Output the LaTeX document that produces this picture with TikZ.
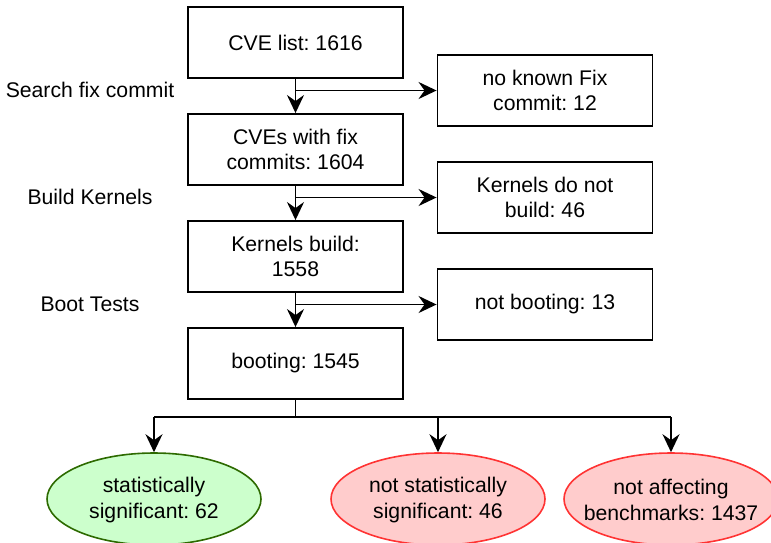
\documentclass[tikz,border=0pt]{standalone}
\usepackage{fontspec}
\setmainfont{Liberation Sans}
\frenchspacing
\usetikzlibrary{arrows.meta,shapes.geometric}
\definecolor{gfill}{HTML}{CCFFCC}
\definecolor{gline}{HTML}{2D6A00}
\definecolor{rfill}{HTML}{FFCCCC}
\definecolor{rline}{HTML}{FF3333}
\tikzset{
  txt/.style={font=\fontsize{21.2}{25.5}\selectfont},
  box/.style={draw=black, line width=1.9pt, minimum width=215pt, minimum height=71pt, inner sep=0pt, align=center, txt},
  lab/.style={inner sep=0pt, txt},
  oval/.style={ellipse, line width=1.6pt, minimum width=214pt, minimum height=92pt, inner sep=0pt},
  good/.style={oval, draw=gline, fill=gfill},
  bad/.style={oval, draw=rline, fill=rfill},
  otext/.style={inner sep=0pt, align=center, txt},
  conn/.style={line width=1.9pt, -{Stealth[length=18pt,width=17pt,inset=6pt]}},
  plain/.style={line width=1.9pt}
}
\begin{document}
\begin{tikzpicture}[x=1pt,y=-1pt]
\useasboundingbox (0,0) rectangle (771,542);
\clip (0,0) rectangle (771,542);
\node[box] (a) at (295.5,42.5) {CVE list: 1616};
\node[box] (b) at (295.5,149.5) {CVEs with fix\\commits: 1604};
\node[box] (c) at (295.5,256.5) {Kernels build:\\1558};
\node[box] (d) at (295.5,363.5) {booting: 1545};
\node[box] (e) at (545,90.5) {no known Fix\\commit: 12};
\node[box] (f) at (545,197.5) {Kernels do not\\build: 46};
\node[box] (g) at (545,304.5) {not booting: 13};
\node[lab] (l1) at (90,90) {Search fix commit};
\node[lab] (l2) at (90,197) {Build Kernels};
\node[lab] (l3) at (90,304) {Boot Tests};
\node[good] (s) at (154,499) {};
\node[bad] (n) at (438,499) {};
\node[bad] (m) at (671,499) {};
\node[otext] (st) at ([yshift=-1pt]s.center) {statistically\\significant: 62};
\node[otext] (nt) at ([yshift=-1pt]n.center) {not statistically\\significant: 46};
\node[otext] (mt) at ([yshift=-1pt]m.center) {not affecting\\benchmarks: 1437};
\draw[conn] (a) -- (b);
\draw[conn] (b) -- (c);
\draw[conn] (c) -- (d);
\draw[conn] (a.south |- e.west) -- (e.west);
\draw[conn] (b.south |- f.west) -- (f.west);
\draw[conn] (c.south |- g.west) -- (g.west);
\coordinate (j) at (295.5,417);
\draw[plain] (d.south) -- (j);
\draw[plain] (s.north |- j) -- (m.north |- j);
\draw[conn] (s.north |- j) -- (s.north);
\draw[conn] (n.north |- j) -- (n.north);
\draw[conn] (m.north |- j) -- (m.north);
\end{tikzpicture}
\end{document}
